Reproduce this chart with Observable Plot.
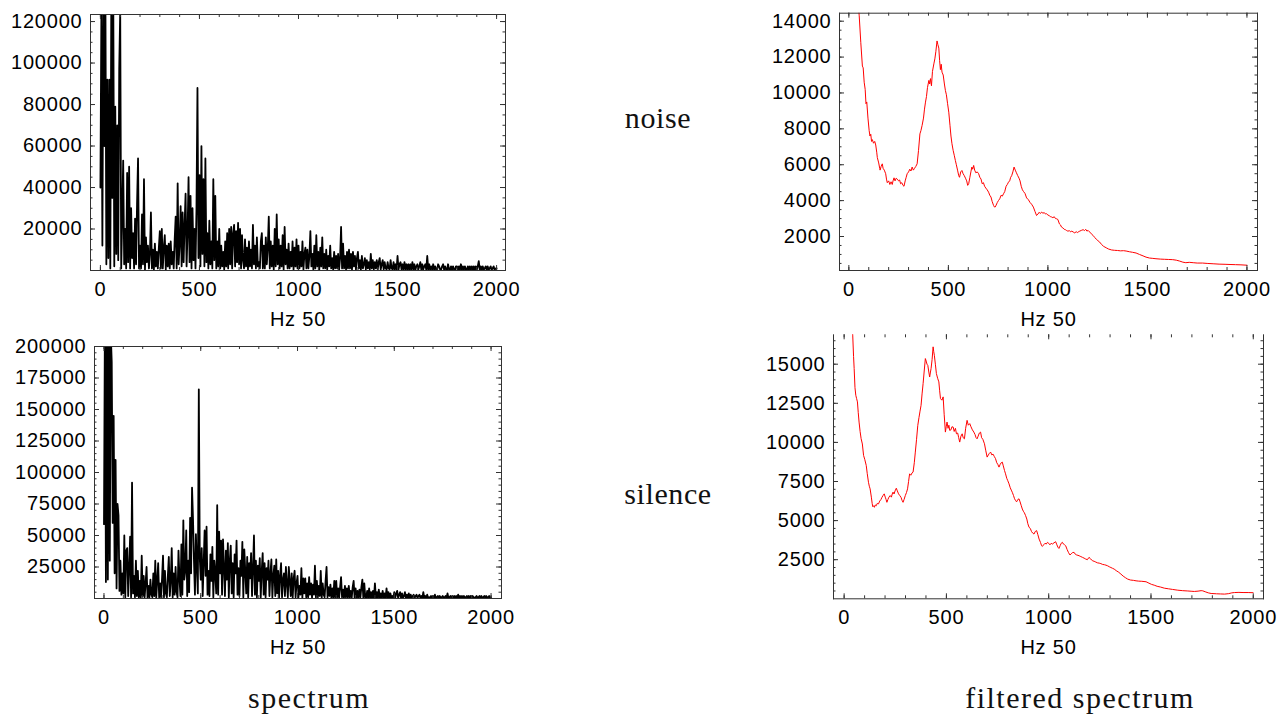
<!DOCTYPE html>
<html><head><meta charset="utf-8">
<script src="https://cdn.jsdelivr.net/npm/d3@7"></script>
<script src="https://cdn.jsdelivr.net/npm/@observablehq/plot@0.6"></script>
<style>
body{margin:0;background:#fff;width:1287px;height:719px;position:relative;overflow:hidden}
.p{position:absolute}
.p svg text{letter-spacing:0.8px}
.lab{position:absolute;font-family:"Liberation Serif","DejaVu Serif",serif;font-size:30px;line-height:1;color:#111;transform:translate(-50%,-50%);white-space:nowrap;letter-spacing:0.6px}
.lab.col{letter-spacing:1.5px}
</style></head><body>
<script>
// ---- data ----
const xTitle = "Hz 50";
const rowLabels = ["noise", "silence"];
const colLabels = ["spectrum", "filtered spectrum"];
const xTickLabels = [0, 500, 1000, 1500, 2000];
const yTicksNoise = [20000, 40000, 60000, 80000, 100000, 120000];
const yTicksSilence = [25000, 50000, 75000, 100000, 125000, 150000, 175000, 200000];
const yTicksNoiseFiltered = [2000, 4000, 6000, 8000, 10000, 12000, 14000];
const yTicksSilenceFiltered = [2500, 5000, 7500, 10000, 12500, 15000];
const spectrumHz = d3.range(0, 2001, 5);   // sample frequencies of the raw spectra
// raw spectrum magnitudes, in thousands, one per 5 Hz
const noiseSpectrumK = [
40,125,12,130,60,140,3,92,6,92,1,130,35,130,2,79,8,70,5,97,
125,1,25,53,3,20,1,47,4,50,1,30,6,18,1,25,3,32,54,1,
12,1,27,3,44,0.5,16,4,12,1,8,28,1,10,0.5,13,2,9,1,11,
19,1,20,1,11,17,0.5,12,2,13,1,14,3,9,1,15,26,1,42,3,
13,31,2,28,4,22,37,2,18,45,4,36,1,30,5,20,1,30,88,6,
46,2,60,8,44,2,54,4,18,1,24,3,14,1,44,5,36,1,14,2,
20,1,12,2,9,0.5,14,2,18,1,20,3,21,1,18,22,2,19,4,23,
3,20,1,17,5,1,15,2,11,0.5,14,2,10,1,22,3,12,1,16,2,
4,1,14,18,1,12,1,16,3,11,26,1,14,2,12,0.5,20,2,27,3,
15,1,12,2,17,0.5,21,3,10,1,13,1,9,2,14,0.5,11,2,15,1,
12,1,9,2,14,0.5,8,11,1,10,1,7,19,2,8,0.5,12,1,17,2,
9,0.5,11,2,16,1,8,1,10,0.5,7,2,12,1,6,0.5,9,1,7,1,
8,0.5,6,21,1,13,1,7,0.5,9,1,10,1,8,0.5,9,2,7,0.5,6,
9,1,5,0.5,7,1,3,6,0.5,5,1,4,0.5,8,1,5,0.5,4,1,5,
0.5,4,6,0.5,3,5,0.5,4,1,0.5,4,1,0.5,5,1,0.5,4,0.5,3,0.5,
7,0.5,3,4,0.5,3,0.5,4,0.5,3,0.5,3,0.3,3,0.5,4,0.5,3,0.3,2,
3,0.5,2,4,0.3,3,0.5,2,3,0.3,7,0.5,3,0.3,2,0.5,3,0.3,2,0.5,
0.3,3,2,0.5,0.3,2,3,0.3,2,0.5,0.3,3,0.5,0.3,2,0.3,2,0.5,0.3,2,
2,0.3,2,0.3,3,0.3,2,0.3,2,0.5,0.3,2,0.3,2,0.3,2,0.3,2,0.3,2,
0.3,2,4.5,0.3,2,0.3,2,0.3,1,2,0.3,2,0.3,1,2,0.3,1,2,0.3,1,
1];
const silenceSpectrumK = [
59,230,13,250,15,240,30,210,188,60,145,20,110,8,75,66,6,30,3,20,
4,50,1,38,40,2,24,49,1,92,4,18,1,30,2,22,1,14,0.5,34,
2,18,1,12,25,0.5,10,1,15,3,1,20,2,30,0.5,14,28,1,12,1,
16,34,1,22,4,1,18,33,2,14,40,1,20,3,25,5,1,38,16,2,
43,3,62,15,22,54,2,30,5,64,20,88,63,30,3,51,25,4,166,32,
15,40,2,28,54,18,57,3,22,2,35,14,41,1,30,20,4,74,3,53,
20,46,3,47,25,2,38,15,44,1,30,42,4,28,1,35,20,46,3,24,
2,30,18,45,1,39,22,4,33,1,28,16,36,2,24,50,3,30,1,26,
14,32,1,22,36,3,28,1,24,15,30,2,20,31,1,18,26,2,31,4,
22,1,18,28,1,15,20,2,25,12,1,25,14,2,20,0.5,16,22,1,12,
18,1,10,3,24,0.5,16,4,16,1,12,1,17,3,12,0.5,11,3,26,1,
14,1,10,2,22,0.5,12,3,1,14,25,1,9,2,11,0.5,8,1,14,0.5,
14,1,8,0.5,9,17,1,7,0.5,10,1,8,0.5,10,1,6,0.5,9,14,0.5,
8,0.5,6,0.5,7,1,9,15,0.5,12,1,0.5,6,0.5,8,0.5,5,0.5,6,0.5,
12,0.5,5,0.5,7,0.5,4,0.5,6,0.5,4,0.5,8,0.5,5,0.5,4,0.5,2,0.5,
5,0.5,4,6,0.3,3,5,0.3,4,0.5,2,5,0.3,3,0.5,4,0.3,3,0.5,2,
3,0.3,2,3,0.3,2,3,0.3,2,0.3,5,0.5,2,0.3,3,0.5,1,0.3,2,0.3,
2,0.3,3,0.5,1,2,0.3,2,0.5,1,2,0.3,1,2,0.3,4,0.5,1,2,0.3,
2,0.3,2,0.5,2,0.3,3,0.3,2,0.5,2,0.3,2,0.3,1,2,0.3,2,0.3,2,
0.3,2,1,0.3,1,2,0.3,1,2,0.3,2,0.5,1,2,0.3,2,0.3,1,2,0.3,
1];
// filtered spectra: [Hz, magnitude]
const noiseFiltered = [[0,26000],[20,19500],[40,16000],[52,14300],[60,12800],[68,11500],[72,11400],[77,10600],[82,10200],[86,9400],[90,9500],[96,8600],[102,7900],[106,7600],[110,7700],[114,7300],[118,7400],[124,7200],[130,7300],[135,7100],[140,6700],[143,6400],[150,6100],[155,5800],[157,5700],[162,5900],[168,6050],[172,5800],[178,5700],[185,5500],[189,5200],[193,5000],[200,5100],[206,4900],[212,5050],[218,4900],[222,5100],[227,5270],[232,5100],[238,5250],[243,5200],[250,5100],[255,5150],[260,4940],[266,5000],[272,4850],[277,4800],[283,5100],[288,5300],[293,5500],[300,5600],[306,5750],[312,5650],[318,5870],[324,5700],[330,5800],[336,5900],[343,6050],[350,6800],[357,7720],[362,7900],[368,8190],[375,8600],[380,9100],[385,9490],[390,9800],[395,10300],[402,10700],[406,10500],[410,10800],[415,10400],[420,11200],[427,11620],[432,11900],[437,12300],[443,12900],[447,12700],[452,12500],[456,11800],[460,11300],[464,11600],[468,11160],[474,11000],[480,10500],[485,10140],[490,9900],[496,9400],[502,8930],[508,8200],[513,7600],[518,7170],[524,6800],[530,6500],[535,6240],[540,6000],[546,5700],[552,5390],[556,5300],[562,5600],[568,5680],[574,5500],[580,5390],[586,5250],[592,5100],[597,4850],[602,4940],[608,5300],[613,5600],[618,5870],[622,5750],[627,5960],[632,5700],[638,5550],[645,5600],[652,5500],[658,5300],[664,5200],[670,4940],[676,5000],[682,4800],[688,4700],[695,4600],[702,4470],[708,4300],[714,4200],[720,3950],[727,3730],[731,3650],[735,3640],[740,3750],[746,3900],[752,4010],[758,4100],[765,4300],[771,4250],[777,4380],[783,4500],[790,4800],[796,4900],[802,5030],[808,5100],[813,5300],[818,5390],[824,5600],[830,5870],[836,5700],[842,5550],[848,5400],[855,5250],[860,5100],[866,4800],[872,4600],[878,4500],[885,4400],[893,4150],[902,4050],[910,3900],[918,3800],[927,3640],[935,3400],[943,3170],[950,3250],[956,3350],[962,3280],[968,3360],[975,3300],[982,3330],[988,3250],[993,3270],[1000,3200],[1008,3150],[1014,3100],[1018,3090],[1025,3050],[1032,3100],[1038,3000],[1043,2990],[1050,2950],[1058,2700],[1063,2650],[1068,2530],[1075,2480],[1082,2400],[1088,2380],[1093,2340],[1100,2300],[1108,2320],[1115,2260],[1120,2300],[1127,2250],[1135,2200],[1142,2270],[1148,2220],[1152,2250],[1160,2300],[1168,2340],[1177,2380],[1184,2330],[1190,2400],[1196,2300],[1202,2340],[1210,2250],[1218,2150],[1227,2060],[1235,1950],[1243,1850],[1251,1770],[1260,1690],[1270,1550],[1280,1450],[1293,1370],[1305,1300],[1320,1250],[1335,1230],[1350,1220],[1365,1200],[1380,1210],[1393,1190],[1410,1150],[1425,1120],[1443,1080],[1460,1000],[1478,920],[1493,850],[1510,800],[1527,780],[1543,760],[1565,740],[1585,730],[1605,720],[1627,710],[1645,680],[1662,630],[1678,570],[1693,540],[1710,560],[1730,540],[1750,520],[1777,520],[1800,500],[1830,480],[1860,460],[1890,450],[1915,440],[1943,430],[1970,420],[2000,400]];
const silenceFiltered = [[0,30000],[20,22000],[42,16860],[46,15500],[49,14720],[53,13500],[57,13010],[61,12800],[65,12590],[69,11900],[73,11300],[78,10700],[83,10240],[89,9900],[95,9170],[101,8900],[108,8530],[113,8000],[119,7450],[123,7200],[127,7030],[133,6500],[137,6100],[140,5890],[144,5950],[148,5850],[152,6000],[157,5950],[162,6100],[168,6070],[174,6250],[180,6350],[185,6490],[190,6600],[196,6710],[201,6500],[205,6350],[209,6170],[214,6350],[219,6500],[225,6600],[231,6500],[235,6700],[239,6820],[244,6700],[249,6900],[255,7070],[260,6900],[266,6710],[272,6600],[278,6490],[283,6300],[288,6170],[293,6350],[299,6600],[305,6800],[310,7030],[315,7500],[320,7990],[326,7900],[332,8050],[337,8100],[343,8700],[348,9380],[354,10200],[360,11090],[366,11600],[371,12000],[376,12370],[381,13100],[386,13760],[391,14500],[397,15360],[401,15200],[405,15000],[409,14930],[414,14500],[418,14180],[422,14500],[425,14720],[430,15300],[435,16110],[438,15800],[441,15570],[446,15000],[451,14400],[457,14100],[463,13870],[467,13300],[471,12800],[478,12700],[484,12910],[489,11800],[495,10660],[499,11000],[503,11300],[508,10900],[512,11100],[516,10770],[522,10800],[527,11000],[533,10980],[538,10700],[544,10900],[549,10550],[555,10600],[560,10300],[565,10020],[571,10400],[577,10550],[582,10300],[588,10230],[594,10900],[601,11410],[607,11100],[614,11200],[620,11000],[627,10800],[634,10660],[640,10500],[645,10300],[650,10230],[655,10400],[661,10600],[667,10660],[672,10300],[678,10200],[686,9910],[692,9500],[699,9060],[705,9200],[710,9300],[716,9380],[722,9200],[728,9250],[734,9100],[740,8960],[746,8700],[751,8600],[757,8420],[763,8600],[768,8700],[773,8740],[778,8500],[784,8200],[789,7990],[795,7700],[800,7550],[806,7350],[812,7100],[817,6950],[822,6810],[828,6600],[833,6400],[838,6280],[843,6200],[849,6350],[855,6390],[860,6200],[866,5950],[871,5740],[876,5600],[881,5500],[887,5320],[893,5100],[898,4800],[904,4570],[910,4500],[916,4300],[922,4200],[928,4140],[934,4300],[941,4360],[947,4100],[953,3820],[960,3600],[965,3400],[969,3350],[975,3450],[982,3550],[988,3500],[994,3610],[1000,3550],[1006,3450],[1012,3550],[1018,3500],[1026,3580],[1034,3650],[1040,3450],[1045,3300],[1050,3220],[1056,3400],[1061,3550],[1067,3610],[1072,3500],[1078,3450],[1083,3390],[1090,3150],[1097,2950],[1104,2800],[1110,2880],[1116,2950],[1124,2970],[1130,2850],[1137,2800],[1143,2780],[1149,2750],[1157,2700],[1165,2650],[1173,2600],[1181,2540],[1189,2500],[1197,2650],[1205,2550],[1214,2430],[1222,2400],[1230,2350],[1238,2300],[1247,2280],[1255,2250],[1263,2200],[1272,2180],[1280,2150],[1288,2110],[1296,2050],[1304,2000],[1312,1950],[1320,1900],[1330,1800],[1342,1700],[1353,1580],[1364,1450],[1375,1350],[1386,1260],[1400,1200],[1414,1180],[1427,1150],[1440,1130],[1455,1120],[1476,1090],[1490,1000],[1503,920],[1516,870],[1530,800],[1547,750],[1565,680],[1585,640],[1605,600],[1631,550],[1655,520],[1680,500],[1700,480],[1712,470],[1730,490],[1745,520],[1753,510],[1765,450],[1780,380],[1794,340],[1820,320],[1840,310],[1860,300],[1880,330],[1895,380],[1909,400],[1930,410],[1950,400],[1975,400],[1999,390]];

// ---- drawing ----
const xMinorTicks = d3.range(0, 2001, 100);
function panel(cfg) {
  const fw = cfg.width - cfg.mL - cfg.mR;
  const fh = cfg.height - cfg.mT - cfg.mB;
  const yMinor = d3.range(cfg.minorStep, cfg.yDomain[1], cfg.minorStep);
  const fc = "#333";
  const frames = (cfg.sides || ["top","right","bottom","left"]).map(a => Plot.frame({anchor: a, stroke: fc, strokeWidth: 1}));
  const marks = [
    cfg.mark,
    ...frames,
    Plot.tickY(cfg.yTicks, {y: d => d, insetRight: fw - 5, stroke: fc}),
    Plot.tickY(yMinor, {y: d => d, insetRight: fw - 2.5, stroke: fc}),
    Plot.tickY(cfg.yTicks, {y: d => d, insetLeft: fw - 5, stroke: fc}),
    Plot.tickY(yMinor, {y: d => d, insetLeft: fw - 2.5, stroke: fc}),
    Plot.tickX(xTickLabels, {x: d => d, insetTop: fh - 5, stroke: fc}),
    Plot.tickX(xMinorTicks, {x: d => d, insetTop: fh - 3, stroke: fc}),
    Plot.tickX(xTickLabels, {x: d => d, insetBottom: fh - 5, stroke: fc}),
    Plot.tickX(xMinorTicks, {x: d => d, insetBottom: fh - 3, stroke: fc}),
    Plot.axisY({ticks: cfg.yTicks, tickSize: 0, tickPadding: 8, tickFormat: d => String(d), label: null, fontSize: 20}),
    Plot.axisX({ticks: xTickLabels, tickSize: 0, tickPadding: 11, tickFormat: d => String(d), label: null, fontSize: 20}),
    Plot.text([xTitle], {text: d => d, frameAnchor: "bottom", dy: 48.6, lineAnchor: "middle", fontSize: 20})
  ];
  const svg = Plot.plot({
    width: cfg.width, height: cfg.height,
    marginLeft: cfg.mL, marginRight: cfg.mR, marginTop: cfg.mT, marginBottom: cfg.mB,
    x: {domain: cfg.xDomain}, y: {domain: cfg.yDomain},
    style: {fontFamily: "'Liberation Sans', Arial, Helvetica, sans-serif", fontSize: "20px", color: "#000", background: "transparent", overflow: "visible"},
    marks
  });
  const div = document.createElement("div");
  div.className = "p";
  div.style.left = cfg.left + "px";
  div.style.top = cfg.top + "px";
  div.appendChild(svg);
  document.body.appendChild(div);
}

const noiseTable = spectrumHz.map((hz, i) => ({hz, v: noiseSpectrumK[i] * 1000}));
const silenceTable = spectrumHz.map((hz, i) => ({hz, v: silenceSpectrumK[i] * 1000}));

panel({left: 0, top: 0, width: 520, height: 335, mL: 90, mR: 15, mT: 14, mB: 65,
  xDomain: [-50, 2045], yDomain: [0, 123400], yTicks: yTicksNoise, minorStep: 5000,
  mark: Plot.line(noiseTable, {x: "hz", y: "v", stroke: "#000", strokeWidth: 1.8, clip: true})});
panel({left: 0, top: 332, width: 520, height: 335, mL: 94, mR: 19, mT: 14, mB: 69,
  xDomain: [-49, 2054], yDomain: [0, 200000], yTicks: yTicksSilence, minorStep: 5000,
  mark: Plot.line(silenceTable, {x: "hz", y: "v", stroke: "#000", strokeWidth: 1.8, clip: true})});
panel({left: 740, top: 0, width: 540, height: 335, mL: 99, mR: 23, mT: 12.7, mB: 65,
  xDomain: [-47, 2053], yDomain: [105, 14446], yTicks: yTicksNoiseFiltered, minorStep: 500,
  mark: Plot.line(noiseFiltered, {x: d => d[0], y: d => d[1], stroke: "#ff0000", strokeWidth: 1, clip: true})});
panel({left: 740, top: 332, width: 540, height: 335, mL: 93, mR: 17, mT: 2.3, mB: 68.7,
  xDomain: [-52, 2050], yDomain: [0, 16880], yTicks: yTicksSilenceFiltered, minorStep: 500,
  sides: ["right", "bottom", "left"],
  mark: Plot.line(silenceFiltered, {x: d => d[0], y: d => d[1], stroke: "#ff0000", strokeWidth: 1, clip: true})});

function label(text, x, y, cls) {
  const d = document.createElement("div");
  d.className = "lab" + (cls ? " " + cls : "");
  d.textContent = text;
  d.style.left = x + "px";
  d.style.top = y + "px";
  document.body.appendChild(d);
}
label(rowLabels[0], 658, 118);
label(rowLabels[1], 668, 494);
label(colLabels[0], 309, 698, "col");
label(colLabels[1], 1080, 698, "col");
</script>
</body></html>
